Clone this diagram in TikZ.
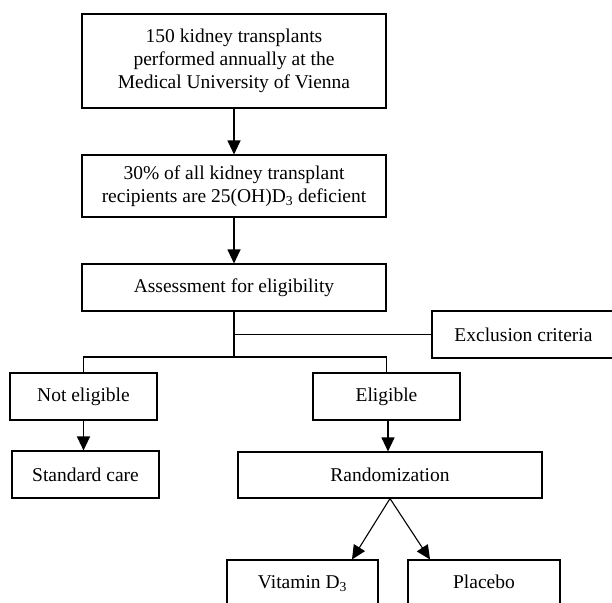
\documentclass[tikz,border=0pt]{standalone}
\usepackage{fontspec}
\setmainfont{Liberation Serif}
\usetikzlibrary{arrows.meta}
\begin{document}
\begin{tikzpicture}[x=1pt,y=-1pt,
  box/.style={draw, line width=1.1pt, inner sep=0pt, align=center, font=\fontsize{19.5}{23}\selectfont},
  line/.style={line width=1.1pt},
  arr/.style={line width=1.1pt, -{Triangle[length=14pt,width=13pt]}}]
\useasboundingbox[fill=white] (0,0) rectangle (612,602);
\node[box, minimum width=304pt, minimum height=94pt] (n1) at (234,61) {150 kidney transplants\\performed annually at the\\Medical University of Vienna};
\node[box, minimum width=304pt, minimum height=62pt] (n2) at (234,186) {30\% of all kidney transplant\\recipients are 25(OH)D\textsubscript{3} deficient};
\node[box, minimum width=304pt, minimum height=47pt] (n3) at (234,287.5) {Assessment for eligibility};
\node[box, minimum width=183pt, minimum height=47pt] (excl) at (523.5,334.5) {Exclusion criteria};
\node[box, minimum width=147pt, minimum height=47pt] (notel) at (83.5,396.5) {Not eligible};
\node[box, minimum width=147pt, minimum height=47pt] (elig) at (386.5,396.5) {Eligible};
\node[box, minimum width=147pt, minimum height=47pt] (std) at (85.5,474.5) {Standard care};
\node[box, minimum width=304pt, minimum height=46pt] (rand) at (390,475) {Randomization};
\node[box, minimum width=151pt, minimum height=47pt] (vit) at (302.5,583.5) {\raisebox{3pt}{Vitamin D\textsubscript{3}}};
\node[box, minimum width=152pt, minimum height=47pt] (plac) at (484,583.5) {\raisebox{3pt}{Placebo}};
\coordinate (j) at (234,357);
\draw[arr] (n1.south) -- (n2.north);
\draw[arr] (n2.south) -- (n3.north);
\draw[line] (n3.south) -- (j);
\draw[line] (n3.south |- excl.west) -- (excl.west);
\draw[line] (notel.north) -- (notel.north |- j) -- (elig.north |- j) -- (elig.north);
\draw[arr] (notel.south) -- (notel.south |- std.north);
\draw[arr] ([xshift=1.5pt]elig.south) -- ([xshift=1.5pt]elig.south |- rand.north);
\draw[arr] (rand.south) -- ([xshift=49.5pt]vit.north);
\draw[arr] (rand.south) -- ([xshift=-54pt]plac.north);
\end{tikzpicture}
\end{document}
